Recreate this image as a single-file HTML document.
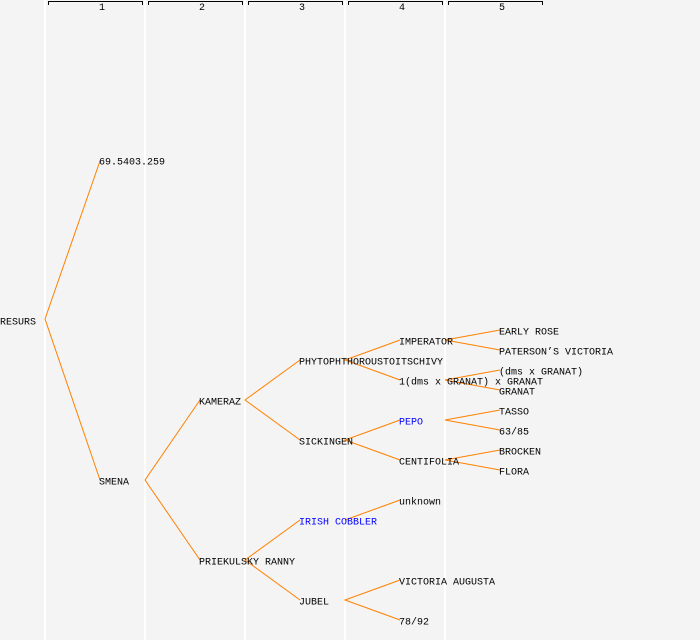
<!DOCTYPE html>
<html><head><style>
html,body{margin:0;padding:0;background:#f4f4f4;}
svg{display:block}
text{font-family:"Liberation Mono",monospace;font-size:10px;fill:#000;}
</style></head><body>
<svg width="700" height="640" viewBox="0 0 700 640" xmlns="http://www.w3.org/2000/svg">
<rect width="700" height="640" fill="#f4f4f4"/>
<g fill="#ffffff">
<rect x="44" y="0" width="2" height="640"/>
<rect x="144" y="0" width="2" height="640"/>
<rect x="244" y="0" width="2" height="640"/>
<rect x="344" y="0" width="2" height="640"/>
<rect x="444" y="0" width="2" height="640"/>
</g>
<g stroke="#000" fill="none" stroke-width="1">
<path d="M48.5 5V1.5H142.5V5"/>
<path d="M148.5 5V1.5H242.5V5"/>
<path d="M248.5 5V1.5H342.5V5"/>
<path d="M348.5 5V1.5H442.5V5"/>
<path d="M448.5 5V1.5H542.5V5"/>
</g>
<g style="font-size:8px" text-anchor="middle">
<text x="102" y="10">1</text>
<text x="202" y="10">2</text>
<text x="302" y="10">3</text>
<text x="402" y="10">4</text>
<text x="502" y="10">5</text>
</g>
<g stroke="#ff8000" stroke-width="1" fill="none">
<path d="M100 161L45 319L100 480"/>
<path d="M200 400L145 480L200 560"/>
<path d="M300 360L245 400L300 440"/>
<path d="M400 340L345 360L400 380"/>
<path d="M500 330L445 340L500 350"/>
<path d="M500 370L445 380L500 390"/>
<path d="M400 420L345 440L400 460"/>
<path d="M500 410L445 420L500 430"/>
<path d="M500 450L445 460L500 470"/>
<path d="M300 520L245 560L300 600"/>
<path d="M400 500L345 520"/>
<path d="M400 580L345 600L400 620"/>
</g>
<g dominant-baseline="middle">
<text x="0" y="322">RESURS</text>
<text x="99" y="162">69.5403.259</text>
<text x="99" y="482">SMENA</text>
<text x="199" y="402">KAMERAZ</text>
<text x="199" y="562">PRIEKULSKY RANNY</text>
<text x="299" y="362">PHYTOPHTHOROUSTOITSCHIVY</text>
<text x="299" y="442">SICKINGEN</text>
<text x="299" y="522" style="fill:#0000ff">IRISH COBBLER</text>
<text x="299" y="602">JUBEL</text>
<text x="399" y="342">IMPERATOR</text>
<text x="399" y="382">1(dms x GRANAT) x GRANAT</text>
<text x="399" y="422" style="fill:#0000ff">PEPO</text>
<text x="399" y="462">CENTIFOLIA</text>
<text x="399" y="502">unknown</text>
<text x="399" y="582">VICTORIA AUGUSTA</text>
<text x="399" y="622">78/92</text>
<text x="499" y="332">EARLY ROSE</text>
<text x="499" y="352">PATERSON’S VICTORIA</text>
<text x="499" y="372">(dms x GRANAT)</text>
<text x="499" y="392">GRANAT</text>
<text x="499" y="412">TASSO</text>
<text x="499" y="432">63/85</text>
<text x="499" y="452">BROCKEN</text>
<text x="499" y="472">FLORA</text>
</g>
</svg>
</body></html>
